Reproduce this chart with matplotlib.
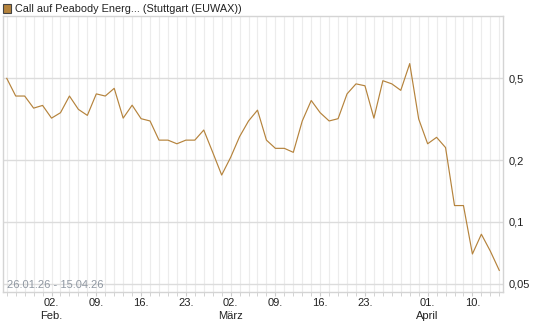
import matplotlib
matplotlib.use("Agg")
import matplotlib.pyplot as plt
from matplotlib.ticker import FixedLocator, NullFormatter
import pandas as pd

# trading days at EUWAX (Good Friday / Easter Monday closed)
DAYS = pd.bdate_range("2026-01-26", "2026-04-15", freq="C",
                      holidays=["2026-04-03", "2026-04-06"])

PRICES = [
    0.50, 0.41, 0.41, 0.358, 0.369,
    0.32, 0.34, 0.41, 0.353, 0.33,
    0.42, 0.41, 0.447, 0.32, 0.37,
    0.318, 0.31, 0.25, 0.25, 0.24,
    0.25, 0.25, 0.28, 0.218, 0.169,
    0.206, 0.26, 0.31, 0.35, 0.25,
    0.228, 0.228, 0.218, 0.31, 0.39,
    0.34, 0.31, 0.318, 0.42, 0.47,
    0.46, 0.32, 0.487, 0.47, 0.437,
    0.59, 0.317, 0.24, 0.258, 0.23,
    0.12, 0.12, 0.0697, 0.087, 0.072, 0.058,
]

TICK_DATES = ["2026-02-02", "2026-02-09", "2026-02-16", "2026-02-23",
              "2026-03-02", "2026-03-09", "2026-03-16", "2026-03-23",
              "2026-04-01", "2026-04-10"]
TICK_LABELS = ["02.\nFeb.", "09.", "16.", "23.", "02.\nMärz", "09.", "16.",
               "23.", "01.\nApril", "10."]

Y_TICKS = [0.05, 0.1, 0.2, 0.5]
Y_LABELS = ["0,05", "0,1", "0,2", "0,5"]

LEGEND = "Call auf Peabody Energ... (Stuttgart (EUWAX))"
RANGE_TEXT = "26.01.26 - 15.04.26"

LINE_COLOR = "#b5833c"

plt.rcParams["font.family"] = ["Liberation Sans", "DejaVu Sans"]
plt.rcParams["font.size"] = 8

fig = plt.figure(figsize=(5.45, 3.27), dpi=100)
ax = fig.add_axes([0.005, 0.107, 0.9185, 0.844])

xs = list(range(len(DAYS)))
ax.plot(xs, PRICES, color=LINE_COLOR, lw=0.85, zorder=3)

ax.set_yscale("log")
ax.set_ylim(0.0455, 1.006)
ax.set_xlim(-0.45, len(DAYS) - 0.55)

# y axis on the right, decimal comma
ax.yaxis.tick_right()
ax.yaxis.set_major_locator(FixedLocator(Y_TICKS))
ax.set_yticklabels(Y_LABELS)
ax.yaxis.set_minor_locator(FixedLocator([]))
ax.yaxis.set_minor_formatter(NullFormatter())
ax.tick_params(axis="y", length=0, pad=4, labelsize=8, labelcolor="#222222")

day_index = {d.strftime("%Y-%m-%d"): i for i, d in enumerate(DAYS)}
ax.set_xticks([day_index[d] for d in TICK_DATES])
ax.set_xticklabels(TICK_LABELS, linespacing=1.4, va="top")
ax.set_xticks(xs, minor=True)
ax.tick_params(axis="x", which="both", length=3, color="#cccccc",
               labelsize=8, labelcolor="#222222", pad=1)

ax.grid(axis="x", which="both", color="#ececec", lw=0.8, zorder=0)
ax.grid(axis="y", which="major", color="#dcdcdc", lw=1.0, zorder=1)
for sp in ax.spines.values():
    sp.set_color("#d4d4d4")
    sp.set_linewidth(1.0)

ax.text(0.008, 0.026, RANGE_TEXT, transform=ax.transAxes, color="#9098a2",
        fontsize=8, ha="left", va="center")

# legend marker and title line
fig.patches.append(plt.Rectangle((3 / 545, 1 - 12.5 / 327), 8 / 545, 8 / 327,
                                 transform=fig.transFigure, facecolor=LINE_COLOR,
                                 edgecolor="#444444", lw=0.8))
fig.text(15 / 545, 1 - 8.5 / 327, LEGEND, fontsize=7.8, color="#222222",
         ha="left", va="center")

fig.savefig("out.png", dpi=100)
